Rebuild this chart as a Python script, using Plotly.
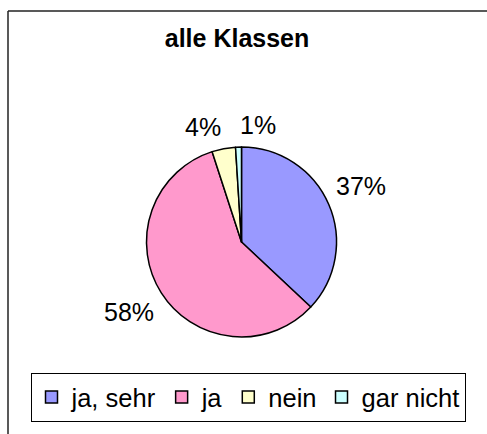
import numpy as np
import plotly.graph_objects as go

# data
categories = ["ja, sehr", "ja", "nein", "gar nicht"]
values = [37, 58, 4, 1]
colors = ["#9999FF", "#FF99CC", "#FFFFCC", "#CCFFFF"]

W, H = 487, 434
font_family = "Liberation Sans, Arial, sans-serif"

# pie geometry in pixels
cx, cy, r = 241.5, 242, 95

fig = go.Figure()
fig.add_trace(
    go.Pie(
        labels=categories,
        values=values,
        sort=False,
        direction="clockwise",
        rotation=0,
        marker=dict(colors=colors, line=dict(color="black", width=1.5)),
        textinfo="none",
        hoverinfo="label+percent",
        domain=dict(x=[(cx - r) / W, (cx + r) / W], y=[1 - (cy + r) / H, 1 - (cy - r) / H]),
    )
)

# percentage labels placed outside the slices, Excel style
vals = np.array(values, dtype=float)
frac = vals / vals.sum()
mid = (np.cumsum(frac) - frac / 2) * 2 * np.pi
gap = 6
for f, a in zip(frac, mid):
    s, c = np.sin(a), np.cos(a)
    px = cx + s * (r + gap)
    py = cy - c * (r + gap)
    fig.add_annotation(
        x=px / W, y=1 - py / H, xref="paper", yref="paper",
        text=f"{f:.0%}", showarrow=False,
        xanchor="left" if s >= -0.05 else "right",
        yanchor="bottom" if c > 0 else "top",
        font=dict(size=25, color="black", family=font_family),
    )

# outer chart frame (left and top edges only; the rest runs off the picture)
fig.add_shape(
    type="line", xref="paper", yref="paper",
    x0=8 / W, x1=8 / W, y0=0, y1=1 - 11 / H,
    line=dict(color="#222222", width=1.5),
)
fig.add_shape(
    type="line", xref="paper", yref="paper",
    x0=8 / W, x1=1, y0=1 - 11 / H, y1=1 - 11 / H,
    line=dict(color="#222222", width=1.5),
)

fig.update_layout(
    width=W,
    height=H,
    margin=dict(l=0, r=0, t=0, b=0),
    paper_bgcolor="white",
    plot_bgcolor="white",
    font=dict(family=font_family, color="black"),
    title=dict(
        text="<b>alle Klassen</b>",
        x=237 / W, xanchor="center",
        y=1 - 38 / H, yanchor="middle",
        font=dict(size=25, color="black", family=font_family),
    ),
    showlegend=True,
    legend=dict(
        orientation="h",
        x=248 / W, xanchor="center",
        y=1 - 373 / H, yanchor="top",
        bordercolor="black",
        borderwidth=1,
        font=dict(size=25.5, color="black", family=font_family),
        itemwidth=30,
        traceorder="normal",
    ),
)

fig.write_html(
    "out.html",
    config={"displayModeBar": False},
    post_script=(
        "document.body.style.margin='0';"
        "document.body.style.overflow='hidden';"
        "document.documentElement.style.overflow='hidden';"
    ),
)
